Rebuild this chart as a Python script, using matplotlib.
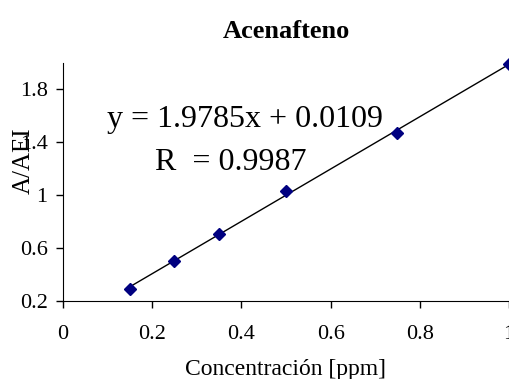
import numpy as np
import matplotlib.pyplot as plt

# curva de calibracion
concentracion = [0.15, 0.25, 0.35, 0.50, 0.75, 1.00]
relacionAreas = [0.29, 0.50, 0.71, 1.035, 1.47, 1.99]
pendiente = 1.9785
ordenada = 0.0109
r2 = 0.9987

plt.rcParams['font.family'] = ['Liberation Serif', 'DejaVu Serif']

fig = plt.figure(figsize=(5.10, 3.79), dpi=100)
ax = fig.add_axes([0.1235, 0.2058, 0.8745, 0.628])

xs = np.array([concentracion[0], concentracion[-1]])
ax.plot(xs, pendiente * xs + ordenada, color='black', lw=1.0, zorder=2)   # linea de tendencia
ax.plot(concentracion, relacionAreas, ls='none', marker='D', ms=6.5,
        color='#000080', mec='#000080', zorder=3, clip_on=False)

ax.set_xlim(0, 1)
ax.set_ylim(0.2, 2.0)
ax.set_xticks([0, 0.2, 0.4, 0.6, 0.8, 1])
ax.set_xticklabels(['0', '0.2', '0.4', '0.6', '0.8', '1'])
ax.set_yticks([0.2, 0.6, 1.0, 1.4, 1.8])
ax.set_yticklabels(['0.2', '0.6', '1', '1.4', '1.8'])
ax.tick_params(direction='out', length=5, width=1, labelsize=16, colors='black')
ax.tick_params(axis='x', pad=12)
ax.tick_params(axis='y', pad=6)
ax.spines['top'].set_visible(False)
ax.spines['right'].set_visible(False)

ax.set_title('Acenafteno', fontsize=19, fontweight='bold', pad=18)
ax.set_xlabel('Concentración [ppm]', fontsize=17, labelpad=11)
ax.set_ylabel('A/AEI', fontsize=18)
ax.yaxis.set_label_coords(-0.064, 0.59)

ax.text(0.0987, 1.57, 'y = %.4fx + %.4f' % (pendiente, ordenada), fontsize=23, va='center')
ax.text(0.206, 1.25, 'R  = %.4f' % r2, fontsize=23, va='center')

fig.savefig('out.png', dpi=100)
